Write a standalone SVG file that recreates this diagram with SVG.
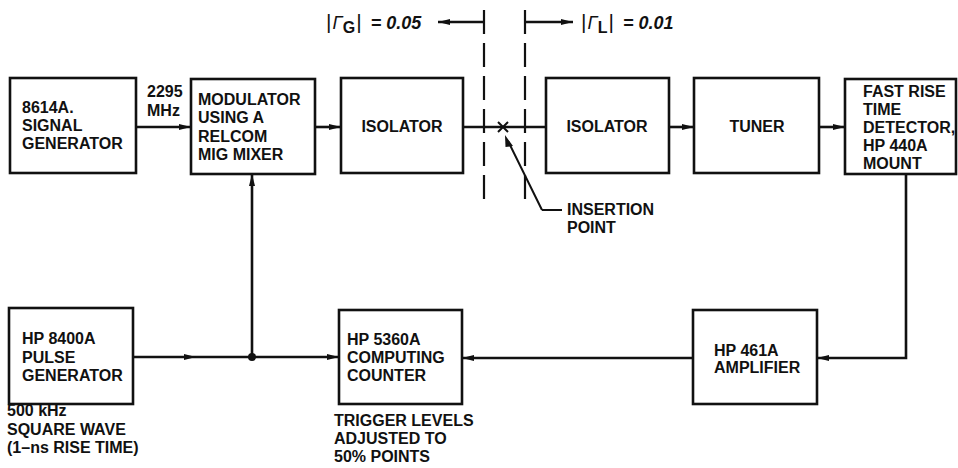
<svg xmlns="http://www.w3.org/2000/svg" width="958" height="468" viewBox="0 0 958 468">
<style>
.box{fill:#fff;stroke:#111;stroke-width:2.6}
.t{font-family:"Liberation Sans",Arial,sans-serif;font-weight:bold;font-size:16px;fill:#111}
.c{text-anchor:middle}
.ln{fill:none;stroke:#111;stroke-width:2.6}
.thin{fill:none;stroke:#111;stroke-width:2}
.dash{fill:none;stroke:#111;stroke-width:2.2;stroke-dasharray:24 9}
.g{font-family:"Liberation Sans",Arial,sans-serif;font-weight:bold;font-size:18px;fill:#111}
</style>
<defs>
<marker id="ah" markerUnits="userSpaceOnUse" markerWidth="14" markerHeight="10" refX="12" refY="4" orient="auto">
<path d="M0,1 L12,4 L0,7 Z" fill="#111"/>
</marker>
</defs>
<rect width="958" height="468" fill="#fff"/>

<g id="connectors">
<path class="ln" d="M136,127 H191" marker-end="url(#ah)"/>
<path class="ln" d="M315,127 H341" marker-end="url(#ah)"/>
<path class="ln" d="M463,127 H546"/>
<path class="ln" d="M669,127 H694" marker-end="url(#ah)"/>
<path class="ln" d="M819,127 H845" marker-end="url(#ah)"/>
<path class="ln" d="M906,174 V358 H817" marker-end="url(#ah)"/>
<path class="ln" d="M693,358 H462" marker-end="url(#ah)"/>
<path class="ln" d="M133,357 H339" marker-end="url(#ah)"/>
<path d="M184,354 L196,357 L184,360 Z" fill="#111"/>
<path class="ln" d="M252,357 V174" marker-end="url(#ah)"/>
<circle cx="252" cy="357" r="4" fill="#111"/>
<path class="thin" d="M498,122 L508,132 M508,122 L498,132" stroke-width="2.6"/>
<path class="thin" d="M542,210 H562 M542,210 L508,141"/>
<path d="M505,135 L513,146 L505.5,147 Z" fill="#111"/>
<path class="dash" d="M484,10 V206"/>
<path class="dash" d="M525,10 V206"/>
<path class="ln" d="M484,22 H438" marker-end="url(#ah)"/>
<path class="ln" d="M525,22 H573" marker-end="url(#ah)"/>
</g>

<g id="gammaG">
<text class="g" x="326" y="29"><tspan font-size="21" font-weight="normal">|</tspan><tspan font-style="italic" font-weight="normal" dx="1">Γ</tspan><tspan font-size="16" dy="4">G</tspan><tspan font-size="21" font-weight="normal" dy="-4" dx="1">|</tspan><tspan font-style="italic" dx="9">= 0.05</tspan></text>
</g>
<g id="gammaL">
<text class="g" x="581" y="29"><tspan font-size="21" font-weight="normal">|</tspan><tspan font-style="italic" font-weight="normal" dx="1">Γ</tspan><tspan font-size="16" dy="4">L</tspan><tspan font-size="21" font-weight="normal" dy="-4" dx="1">|</tspan><tspan font-style="italic" dx="9">= 0.01</tspan></text>
</g>

<g id="signal-generator">
<rect class="box" x="10" y="78" width="126" height="95"/>
<text class="t" x="22" y="113">8614A.</text>
<text class="t" x="22" y="131">SIGNAL</text>
<text class="t" x="22" y="149">GENERATOR</text>
</g>
<g id="freq-label">
<text class="t" x="147" y="97">2295</text>
<text class="t" x="147" y="116">MHz</text>
</g>
<g id="modulator">
<rect class="box" x="191" y="79" width="124" height="95"/>
<text class="t" x="198" y="105">MODULATOR</text>
<text class="t" x="198" y="123">USING A</text>
<text class="t" x="198" y="142">RELCOM</text>
<text class="t" x="198" y="160">MIG MIXER</text>
</g>
<g id="isolator1">
<rect class="box" x="341" y="78" width="122" height="95"/>
<text class="t c" x="402" y="132">ISOLATOR</text>
</g>
<g id="isolator2">
<rect class="box" x="546" y="78" width="123" height="95"/>
<text class="t c" x="607" y="132">ISOLATOR</text>
</g>
<g id="tuner">
<rect class="box" x="694" y="78" width="125" height="95"/>
<text class="t c" x="757" y="132">TUNER</text>
</g>
<g id="detector">
<rect class="box" x="845" y="79" width="111" height="95"/>
<text class="t" x="863" y="97">FAST RISE</text>
<text class="t" x="863" y="115">TIME</text>
<text class="t" x="863" y="133">DETECTOR,</text>
<text class="t" x="863" y="151">HP 440A</text>
<text class="t" x="863" y="169">MOUNT</text>
</g>
<g id="insertion-label">
<text class="t" x="567" y="215">INSERTION</text>
<text class="t" x="567" y="233">POINT</text>
</g>
<g id="pulse-generator">
<rect class="box" x="9" y="308" width="124" height="96"/>
<text class="t" x="22" y="344">HP 8400A</text>
<text class="t" x="22" y="363">PULSE</text>
<text class="t" x="22" y="381">GENERATOR</text>
<text class="t" x="7" y="416">500 kHz</text>
<text class="t" x="7" y="435">SQUARE WAVE</text>
<text class="t" x="7" y="453">(1–ns RISE TIME)</text>
</g>
<g id="counter">
<rect class="box" x="339" y="310" width="123" height="94"/>
<text class="t" x="347" y="345">HP 5360A</text>
<text class="t" x="347" y="363">COMPUTING</text>
<text class="t" x="347" y="381">COUNTER</text>
<text class="t" x="334" y="426">TRIGGER LEVELS</text>
<text class="t" x="334" y="444">ADJUSTED TO</text>
<text class="t" x="334" y="462">50% POINTS</text>
</g>
<g id="amplifier">
<rect class="box" x="693" y="310" width="124" height="94"/>
<text class="t" x="714" y="356">HP 461A</text>
<text class="t" x="714" y="373">AMPLIFIER</text>
</g>
</svg>
